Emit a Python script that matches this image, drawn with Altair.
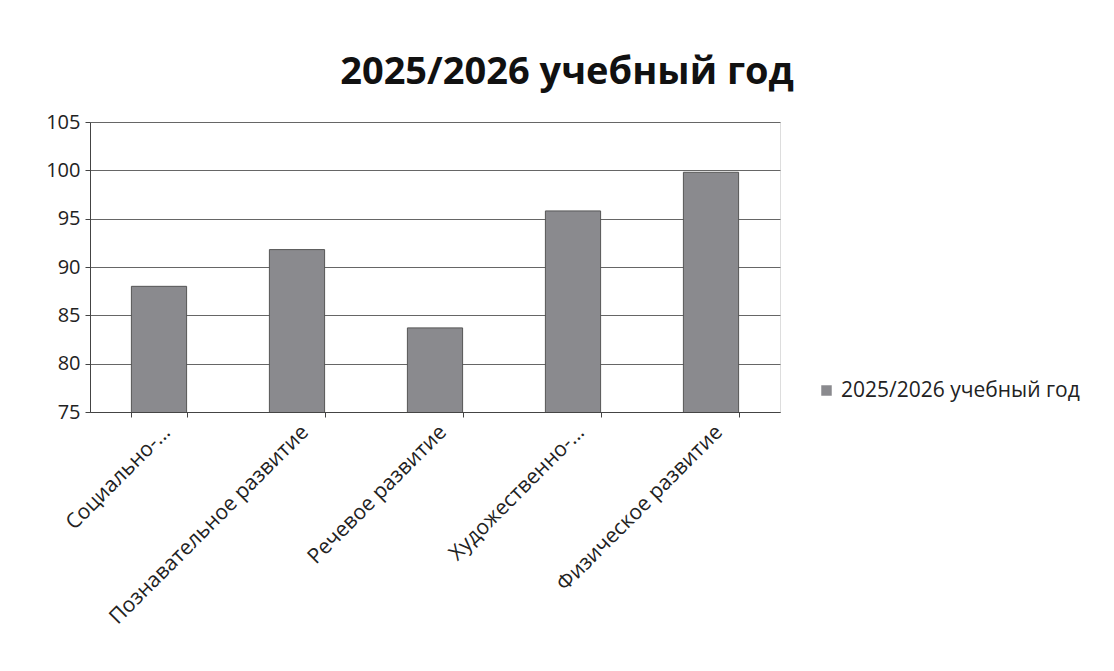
import altair as alt
import pandas as pd

categories = ["Социально-...", "Познавательное развитие", "Речевое развитие",
              "Художественно-...", "Физическое развитие"]
values = [88.0, 91.8, 83.7, 95.8, 99.8]
series = "2025/2026 учебный год"

df = pd.DataFrame({"cat": categories, "val": values, "series": [series] * len(categories)})

FONT = "Open Sans"

bars = alt.Chart(df).mark_bar(stroke="#555555", strokeWidth=1, clip=True).encode(
    x=alt.X("cat:N", sort=categories, title=None,
            scale=alt.Scale(paddingInner=0.6, paddingOuter=0.3),
            axis=alt.Axis(labelAngle=-45, labelFontSize=21, labelColor="#222222",
                          labelFont=FONT, tickBand="extent", domainColor="#444444",
                          tickColor="#444444", labelLimit=400, labelPadding=4)),
    y=alt.Y("val:Q", title=None,
            scale=alt.Scale(domain=[75, 105], zero=False, nice=False),
            axis=alt.Axis(values=[75, 80, 85, 90, 95, 100, 105], labelFontSize=20,
                          labelFont=FONT, labelColor="#222222", gridColor="#666666",
                          gridWidth=1, domainColor="#444444", tickColor="#444444",
                          labelPadding=5)),
    color=alt.Color("series:N", title=None,
                    scale=alt.Scale(range=["#8a8a8e"]),
                    legend=alt.Legend(orient="none", legendX=726, legendY=258,
                                      symbolType="square", symbolSize=110,
                                      labelFontSize=21, labelFont=FONT,
                                      labelColor="#222222", symbolStrokeWidth=0,
                                      labelLimit=400)),
)

chart = bars.properties(
    width=690, height=290,
    title=alt.TitleParams(series, fontSize=38, font=FONT, fontWeight="bold",
                          color="#111111", anchor="middle", offset=20, dx=132),
    padding={"left": 37, "top": 46, "right": 10, "bottom": 10},
).configure_view(stroke=None).configure(background="white")

chart.save("out.html", embed_options={"renderer": "svg", "actions": False})
